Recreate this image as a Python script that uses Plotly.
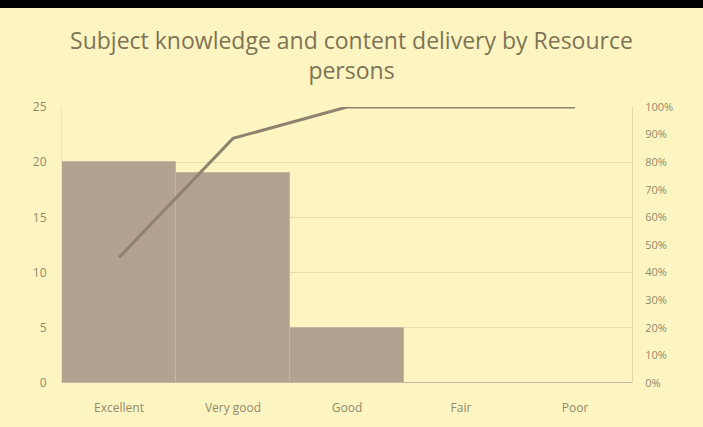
import plotly.graph_objects as go

# Data
categories = ["Excellent", "Very good", "Good", "Fair", "Poor"]
counts = [20, 19, 5, 0, 0]

total = sum(counts)
cumulative = []
running = 0
for c in counts:
    running += c
    cumulative.append(running / total * 100)

bg = "#fdf5c1"
bar_color = "#b3a290"
line_color = "#8e836f"
grid_color = "#e6dcaa"
text_color = "#8f8a6c"

fig = go.Figure()
fig.add_trace(go.Bar(
    x=categories, y=counts, marker=dict(color=bar_color, line=dict(color="#c4b59f", width=1)),
    width=1.0, yaxis="y", showlegend=False
))
fig.add_trace(go.Scatter(
    x=categories, y=cumulative, mode="lines", line=dict(color=line_color, width=3),
    yaxis="y2", showlegend=False
))

fig.update_layout(
    width=703, height=427,
    paper_bgcolor=bg, plot_bgcolor=bg,
    margin=dict(l=62, r=71, t=107, b=44),
    font=dict(family="Open Sans, sans-serif", color=text_color, size=12),
    title=dict(
        text="Subject knowledge and content delivery by Resource<br>persons",
        x=0.5, xanchor="center", y=0.885, yanchor="top",
        font=dict(size=23, color="#7d7356", family="Open Sans, sans-serif"),
    ),
    bargap=0,
    xaxis=dict(showgrid=False, showline=False, ticks="", tickfont=dict(size=12),
               ticklabelstandoff=16),
    yaxis=dict(range=[0, 25], dtick=5, showgrid=True, gridcolor=grid_color, gridwidth=1,
               zeroline=False, showline=True, linecolor="#efe5b4", ticks="",
               tickfont=dict(size=12), ticklabelstandoff=12),
    yaxis2=dict(range=[0, 100], dtick=10, overlaying="y", side="right", showgrid=False,
                zeroline=False, showline=True, linecolor="#e3d9a8", ticksuffix="%",
                ticks="", tickfont=dict(size=11), ticklabelstandoff=10),
    shapes=[dict(type="rect", xref="paper", yref="paper", x0=-0.2, x1=1.2,
                 y0=1 + 99 / 276, y1=1.5, fillcolor="black", line=dict(width=0), layer="above")],
)

fig.write_html("out.html", config={"displayModeBar": False},
               post_script="document.body.style.margin='0';")
